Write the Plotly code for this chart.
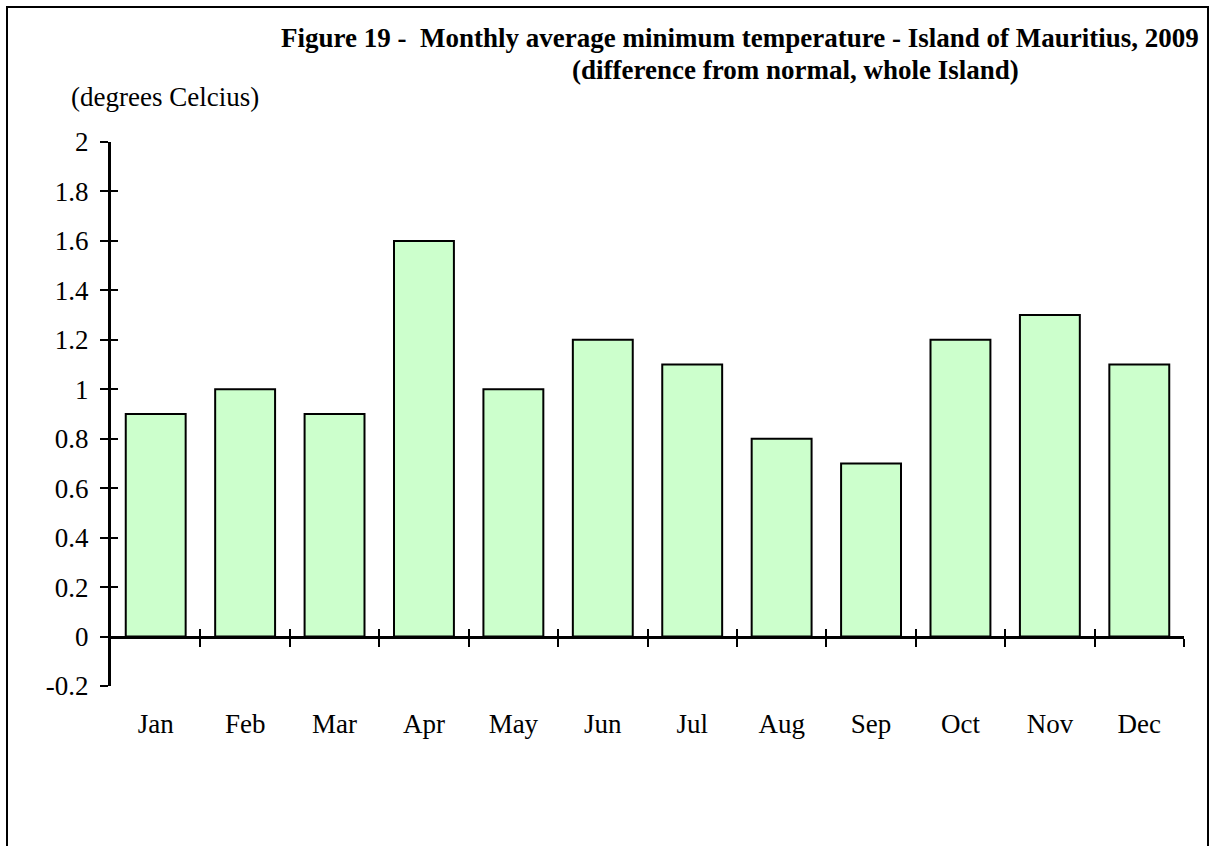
import plotly.graph_objects as go

months = ["Jan", "Feb", "Mar", "Apr", "May", "Jun", "Jul", "Aug", "Sep", "Oct", "Nov", "Dec"]
anomaly = [0.9, 1.0, 0.9, 1.6, 1.0, 1.2, 1.1, 0.8, 0.7, 1.2, 1.3, 1.1]
y_ticks = [-0.2, 0, 0.2, 0.4, 0.6, 0.8, 1, 1.2, 1.4, 1.6, 1.8, 2]
y_tick_text = ["-0.2", "0", "0.2", "0.4", "0.6", "0.8", "1", "1.2", "1.4", "1.6", "1.8", "2"]
boundaries = list(range(1, 13))

title_line1 = "Figure 19 -  Monthly average minimum temperature - Island of Mauritius, 2009"
title_line2 = "(difference from normal, whole Island)"
unit_label = "(degrees Celcius)"

FONT = "Liberation Serif, Times New Roman, serif"
W, H = 1214, 846
L, R, T, B = 111, 30, 142, 160
pw, ph = W - L - R, H - T - B
YMIN, YMAX = -0.2, 2.0


def px_x(px):
    return (px - L) / pw


def px_y(py):
    return (H - B - py) / ph


fig = go.Figure()
fig.add_trace(go.Bar(
    x=months, y=anomaly,
    marker=dict(color="#CCFFCC", line=dict(color="black", width=2)),
    width=0.67,
    showlegend=False,
))

zero_pos = (0 - YMIN) / (YMAX - YMIN)

fig.update_layout(
    width=W, height=H,
    margin=dict(l=L, r=R, t=T, b=B),
    paper_bgcolor="white", plot_bgcolor="white",
    font=dict(family=FONT, size=27, color="black"),
    xaxis=dict(
        type="category", showline=False, showgrid=False, zeroline=False,
        ticks="", tickfont=dict(size=27), ticklabelstandoff=19,
        range=[-0.5, 11.5],
    ),
    xaxis2=dict(
        overlaying="x", anchor="free", position=zero_pos, side="bottom",
        range=[0, 12], showline=True, linecolor="black", linewidth=3,
        showgrid=False, zeroline=False, showticklabels=False,
        tickmode="array", tickvals=boundaries,
        ticks="outside", ticklen=8, tickwidth=2, tickcolor="black",
    ),
    xaxis3=dict(
        overlaying="x", anchor="free", position=zero_pos, side="bottom",
        range=[0, 12], showline=False,
        showgrid=False, zeroline=False, showticklabels=False,
        tickmode="array", tickvals=boundaries,
        ticks="inside", ticklen=8, tickwidth=2, tickcolor="black",
    ),
    yaxis=dict(
        range=[YMIN, YMAX], showline=True, linecolor="black", linewidth=3,
        showgrid=False, zeroline=False,
        tickmode="array", tickvals=y_ticks, ticktext=y_tick_text,
        ticks="outside", ticklen=8, tickwidth=2, tickcolor="black",
        tickfont=dict(size=27), ticklabelstandoff=6,
    ),
    yaxis2=dict(
        overlaying="y", anchor="x", side="left",
        range=[YMIN, YMAX], showline=False, showgrid=False, zeroline=False,
        showticklabels=False, tickmode="array", tickvals=y_ticks,
        ticks="inside", ticklen=7, tickwidth=2, tickcolor="black",
    ),
    bargap=0.33,
)

# invisible helper traces so the overlay axes are drawn
fig.add_trace(go.Scatter(x=[None], y=[None], xaxis="x2", yaxis="y", showlegend=False, hoverinfo="skip"))
fig.add_trace(go.Scatter(x=[None], y=[None], xaxis="x3", yaxis="y", showlegend=False, hoverinfo="skip"))
fig.add_trace(go.Scatter(x=[None], y=[None], xaxis="x", yaxis="y2", showlegend=False, hoverinfo="skip"))

fig.add_annotation(
    text="<b>" + title_line1 + "</b>", xref="paper", yref="paper",
    x=px_x(1201), y=px_y(38), xanchor="right", yanchor="middle",
    showarrow=False, font=dict(family=FONT, size=27),
)
fig.add_annotation(
    text="<b>" + title_line2 + "</b>", xref="paper", yref="paper",
    x=px_x(795), y=px_y(70), xanchor="center", yanchor="middle",
    showarrow=False, font=dict(family=FONT, size=27),
)
fig.add_annotation(
    text=unit_label, xref="paper", yref="paper",
    x=px_x(69), y=px_y(97), xanchor="left", yanchor="middle",
    showarrow=False, font=dict(family=FONT, size=27),
)

# chart frame
fig.add_shape(
    type="rect", xref="paper", yref="paper",
    x0=px_x(7), x1=px_x(1208), y0=px_y(860), y1=px_y(7),
    line=dict(color="black", width=2), fillcolor="rgba(0,0,0,0)", layer="below",
)

fig.write_html(
    "out.html",
    config={"displayModeBar": False},
    post_script="document.body.style.margin='0';document.body.style.overflow='hidden';",
)
